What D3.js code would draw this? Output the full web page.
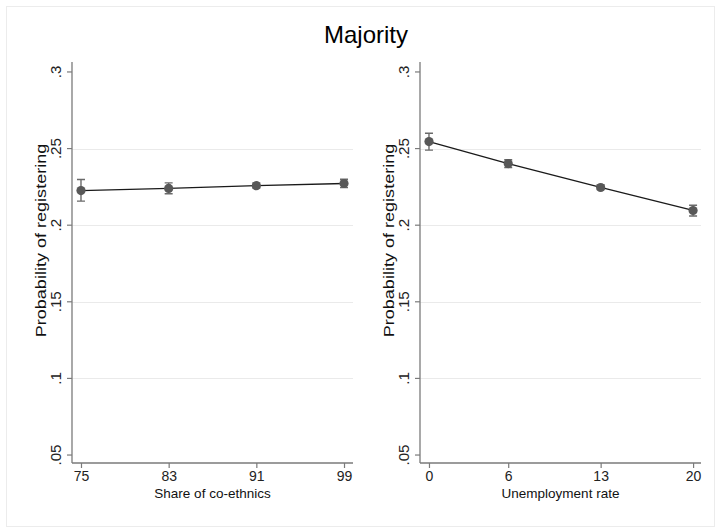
<!DOCTYPE html>
<html>
<head>
<meta charset="utf-8">
<script src="https://cdn.jsdelivr.net/npm/d3@7"></script>
<style>
  html, body { margin: 0; padding: 0; background: #fff; }
  svg { display: block; font-family: "Liberation Sans", Arial, sans-serif; }
</style>
</head>
<body>
<svg id="chart" width="716" height="529"></svg>
<script>
// Predicted probability of registering, majority group
const chartTitle = "Majority";
const yTitle = "Probability of registering";
const yTicks = [0.05, 0.1, 0.15, 0.2, 0.25, 0.3];
const yTickLabels = [".05", ".1", ".15", ".2", ".25", ".3"];

// Panel 1: share of co-ethnics
const shareX = [75, 83, 91, 99];
const shareY = [0.2226, 0.2240, 0.2258, 0.2272];
const shareLo = [0.2157, 0.2205, 0.2242, 0.2245];
const shareHi = [0.2298, 0.2276, 0.2275, 0.2300];

// Panel 2: unemployment rate
const unempX = [0, 6, 13, 20];
const unempY = [0.2546, 0.2402, 0.2246, 0.2096];
const unempLo = [0.2490, 0.2376, 0.2232, 0.2060];
const unempHi = [0.2600, 0.2428, 0.2262, 0.2130];

const panels = [
  { xs: shareX, ys: shareY, lo: shareLo, hi: shareHi, xDomain: [74.18, 99.82],
    left: 72, right: 353, xTitle: "Share of co-ethnics" },
  { xs: unempX, ys: unempY, lo: unempLo, hi: unempHi, xDomain: [-0.68, 20.6],
    left: 420, right: 701, xTitle: "Unemployment rate" }
];

const plotTop = 62, plotBottom = 463;
const svg = d3.select("#chart");

// outer frame
svg.append("rect").attr("x", 6.5).attr("y", 6.5).attr("width", 708).attr("height", 520)
  .attr("fill", "#fff").attr("stroke", "#ececec").attr("stroke-width", 1);

svg.append("text").attr("x", 366).attr("y", 43).attr("text-anchor", "middle")
  .attr("font-size", 24).attr("fill", "#000").text(chartTitle);

const y = d3.scaleLinear().domain([0.0448, 0.3065]).range([plotBottom, plotTop]);

panels.forEach(p => {
  const g = svg.append("g");
  const x = d3.scaleLinear().domain(p.xDomain).range([p.left, p.right]);

  // gridlines on inner ticks
  g.selectAll("line.grid").data(yTicks.filter(t => t > 0.06 && t < 0.29)).join("line")
    .attr("class", "grid")
    .attr("x1", p.left).attr("x2", p.right)
    .attr("y1", d => Math.round(y(d)) + 0.5).attr("y2", d => Math.round(y(d)) + 0.5)
    .attr("stroke", "#eaeaea").attr("stroke-width", 1);

  // y axis
  const yAxis = d3.axisLeft(y).tickValues(yTicks)
    .tickFormat((d, i) => yTickLabels[i]).tickSize(5).tickPadding(4);
  const ya = g.append("g").attr("transform", `translate(${p.left},0)`).call(yAxis);
  ya.select(".domain").attr("d", `M0,${plotBottom}V${plotTop}`).attr("stroke", "#7a7a7a").attr("stroke-width", 1.3);
  ya.selectAll(".tick line").attr("stroke", "#7a7a7a").attr("stroke-width", 1.2);
  ya.selectAll(".tick text")
    .attr("font-size", 14).attr("fill", "#222")
    .attr("text-anchor", "middle").attr("dy", null)
    .attr("transform", d => `translate(-15,${y(d)}) rotate(-90) scale(1.08,1)`)
    .attr("x", 0).attr("y", 0).attr("dominant-baseline", "middle");
  ya.selectAll(".tick").attr("transform", null);
  ya.selectAll(".tick line").attr("y1", d => y(d)).attr("y2", d => y(d));

  // x axis
  const xAxis = d3.axisBottom(x).tickValues(p.xs).tickFormat(d3.format("d"))
    .tickSize(5).tickPadding(3);
  const xa = g.append("g").attr("transform", `translate(0,${plotBottom})`).call(xAxis);
  xa.select(".domain").attr("d", `M${p.left},0H${p.right}`).attr("stroke", "#7a7a7a").attr("stroke-width", 1.3);
  xa.selectAll(".tick line").attr("stroke", "#7a7a7a").attr("stroke-width", 1.2);
  xa.selectAll(".tick text").attr("font-size", 14).attr("fill", "#222");

  // axis titles
  g.append("text").attr("x", (p.left + p.right) / 2).attr("y", 498)
    .attr("text-anchor", "middle").attr("font-size", 13.5).attr("fill", "#111").text(p.xTitle);
  g.append("text")
    .attr("transform", `translate(${p.left - 26},${(plotTop + plotBottom) / 2 - 22}) rotate(-90) scale(1.29,1)`)
    .attr("text-anchor", "middle").attr("font-size", 14).attr("fill", "#111").text(yTitle);

  const pts = p.xs.map((v, i) => ({ x: v, y: p.ys[i], lo: p.lo[i], hi: p.hi[i] }));

  // confidence intervals
  g.selectAll("path.ci").data(pts).join("path").attr("class", "ci")
    .attr("d", d => {
      const cx = x(d.x), w = 4;
      return `M${cx - w},${y(d.hi)}H${cx + w}M${cx},${y(d.hi)}V${y(d.lo)}M${cx - w},${y(d.lo)}H${cx + w}`;
    })
    .attr("fill", "none").attr("stroke", "#6a6a6a").attr("stroke-width", 1.4);

  // connecting line
  g.append("path").datum(pts)
    .attr("d", d3.line().x(d => x(d.x)).y(d => y(d.y)))
    .attr("fill", "none").attr("stroke", "#1a1a1a").attr("stroke-width", 1.3);

  // markers
  g.selectAll("circle.pt").data(pts).join("circle").attr("class", "pt")
    .attr("cx", d => x(d.x)).attr("cy", d => y(d.y)).attr("r", 4.6)
    .attr("fill", "#585858");
});
</script>
</body>
</html>
